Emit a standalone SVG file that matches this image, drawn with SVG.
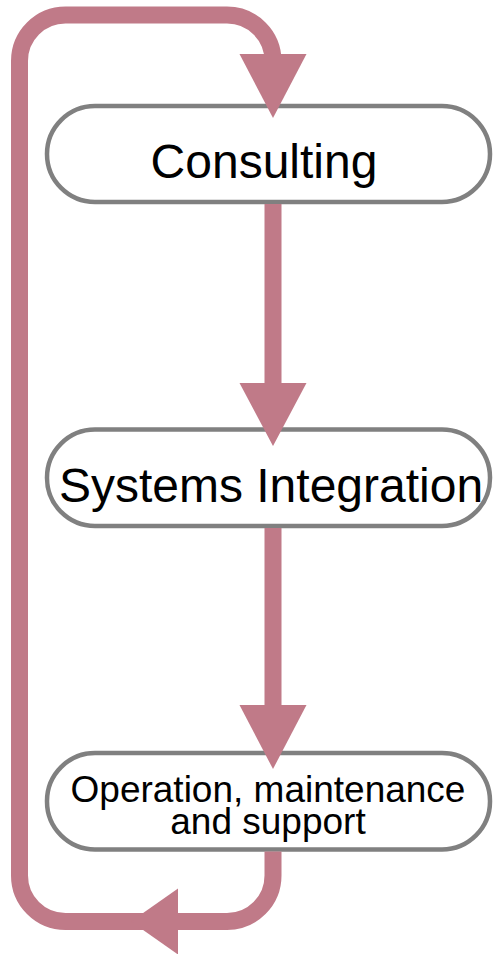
<svg xmlns="http://www.w3.org/2000/svg" width="493" height="954" viewBox="0 0 493 954">
  <style>
    .box { fill: #ffffff; stroke: #808080; stroke-width: 4.5; }
    .lbl { font-family: "Liberation Sans", Arial, sans-serif; fill: #000000; text-anchor: middle; }
    .conn { fill: none; stroke: #c07a88; stroke-width: 17; stroke-linecap: butt; stroke-linejoin: round; }
    .head { fill: #c07a88; stroke: none; }
  </style>
  <rect width="493" height="954" fill="#ffffff"/>
  <g id="node-consulting">
    <rect class="box" x="47" y="106" width="443" height="96" rx="48" ry="48"/>
    <text class="lbl" x="264" y="177.5" font-size="48">Consulting</text>
  </g>
  <g id="node-systems-integration">
    <rect class="box" x="47" y="429.5" width="443" height="96.5" rx="48" ry="48"/>
    <text class="lbl" x="271" y="501.5" font-size="48">Systems Integration</text>
  </g>
  <g id="node-operation">
    <rect class="box" x="47" y="753" width="443" height="96.5" rx="48" ry="48"/>
    <text class="lbl" x="268" y="801.5" font-size="37">Operation, maintenance</text>
    <text class="lbl" x="268" y="834" font-size="37">and support</text>
  </g>
  <g id="connectors">
    <path class="conn" d="M273 204 L273 400"/>
    <polygon class="head" points="239.5,383 306.5,383 273,446"/>
    <path class="conn" d="M273 528 L273 720"/>
    <polygon class="head" points="239.5,705 306.5,705 273,769"/>
    <path class="conn" d="M273 851.5 L273 875.5 A46 46 0 0 1 227 921.5 L65.5 921.5 A46 46 0 0 1 19.5 875.5 L19.5 61 A46 46 0 0 1 65.5 15 L227 15 A46 46 0 0 1 273 61 L273 72"/>
    <polygon class="head" points="239.5,54 306.5,54 273,118"/>
    <polygon class="head" points="178,888.5 178,954.5 131,921.5"/>
  </g>
</svg>
